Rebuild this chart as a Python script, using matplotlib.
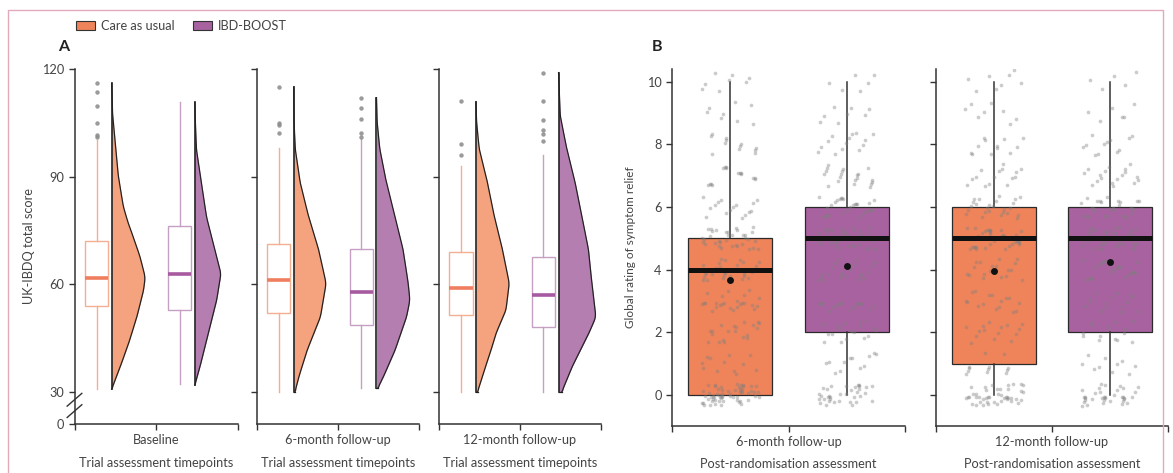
import numpy as np
import matplotlib
matplotlib.use('Agg')
import matplotlib.pyplot as plt
from matplotlib.patches import Patch, Rectangle

plt.rcParams['font.family'] = ['Lato', 'DejaVu Sans']

# ---- data ----
groups = ['Care as usual', 'IBD-BOOST']
timepoints_a = ['Baseline', '6-month follow-up', '12-month follow-up']
timepoints_b = ['6-month follow-up', '12-month follow-up']

# panel A box stats: (q1, median, q3, whisker low, whisker high)
care_box_a = [(53.8, 61.8, 71.9, 30.7, 100.1),
              (52.0, 61.0, 71.1, 30.0, 98.0),
              (51.5, 58.9, 69.0, 30.0, 92.9)]
boost_box_a = [(52.9, 62.9, 76.2, 32.1, 110.7),
               (48.7, 57.8, 69.8, 31.0, 100.6),
               (48.1, 56.9, 67.5, 30.0, 95.9)]
care_outliers_a = [[100.9, 101.7, 104.8, 109.7, 113.7, 116.0],
                   [102.1, 104.3, 105.0, 115.0],
                   [95.9, 99.0, 111.0]]
boost_outliers_a = [[],
                    [101.0, 102.2, 106.0, 109.0, 112.0],
                    [100.0, 102.0, 103.0, 105.9, 111.0, 119.0]]

# panel A half-violin outlines (score, relative density)
care_vy = [[30.7, 36.8, 43.3, 50.8, 58.2, 61.9, 67.5, 73.0, 76.8, 81.5, 90.0, 100.0, 106.7, 116.0],
           [30.0, 34.0, 41.5, 50.8, 60.2, 69.5, 78.7, 88.0, 97.3, 105.0, 115.0],
           [30.0, 35.9, 41.5, 46.2, 52.7, 60.2, 69.5, 78.9, 88.2, 97.6, 105.0, 110.9]]
care_vd = [[0, 25, 50, 75, 95, 100, 85, 65, 50, 35, 20, 10, 3, 0],
           [4, 15, 40, 80, 97, 75, 45, 20, 5, 1, 0],
           [5, 25, 45, 60, 90, 100, 80, 55, 35, 10, 2, 0]]
boost_vy = [[31.8, 36.8, 46.1, 55.4, 62.9, 71.3, 78.7, 88.0, 97.4, 104.0, 110.7],
            [31.0, 34.0, 41.4, 50.8, 55.5, 60.2, 69.5, 78.9, 88.2, 97.6, 105.0, 112.0],
            [30.0, 36.8, 46.1, 50.8, 60.2, 69.5, 78.9, 88.2, 97.6, 106.9, 119.0]]
boost_vd = [[0, 15, 40, 65, 78, 55, 35, 20, 5, 2, 0],
            [4, 20, 55, 90, 100, 95, 80, 55, 30, 10, 2, 0],
            [10, 40, 90, 112, 100, 90, 70, 50, 25, 5, 0]]

# panel B: number of patients per rating 0..10
ratings = list(range(11))
care_counts_b = [[60, 12, 20, 25, 30, 35, 16, 15, 12, 8, 8],
                 [45, 12, 15, 16, 18, 40, 25, 15, 12, 8, 8]]
boost_counts_b = [[35, 12, 18, 18, 22, 40, 30, 20, 14, 8, 6],
                  [35, 10, 15, 15, 25, 40, 28, 18, 12, 6, 5]]
# (q1, median, q3, whisker low, whisker high, mean)
care_box_b = [(0, 4, 5, 0, 10, 3.67), (1, 5, 6, 0, 10, 3.97)]
boost_box_b = [(2, 5, 6, 0, 10, 4.10), (2, 5, 6, 0, 10, 4.23)]

# ---- styling ----
OR_V, OR_EDGE, OR_MED, OR_B = '#F5A27E', '#F4AE92', '#EF7E5F', '#EF845A'
PU_V, PU_EDGE, PU_MED, PU_B = '#B47FB0', '#C6A0C2', '#A85AA0', '#A8629F'
AX_COL = '#333333'
TXT = '#444444'
FS = 9.2

W, H = 1173, 473
fig = plt.figure(figsize=(W / 100, H / 100), dpi=100)


def rect(x0, x1, ytop, ybot):
    return [x0 / W, 1 - ybot / H, (x1 - x0) / W, (ybot - ytop) / H]


def style(ax):
    for s in ['top', 'right']:
        ax.spines[s].set_visible(False)
    for s in ['left', 'bottom']:
        ax.spines[s].set_color(AX_COL)
        ax.spines[s].set_linewidth(1.1)
    ax.tick_params(colors=AX_COL, labelcolor=TXT, labelsize=FS, length=4, width=1)


def stats(b, fl=(), mean=None):
    d = dict(q1=b[0], med=b[1], q3=b[2], whislo=b[3], whishi=b[4], fliers=list(fl))
    if mean is not None:
        d['mean'] = mean
    return d


def half_violin(ax, ys, ds, base, fc):
    yy = np.linspace(ys[0], ys[-1], 300)
    dd = np.interp(yy, ys, ds)
    k = np.ones(9) / 9
    dd = np.convolve(np.pad(dd, 4, mode='edge'), k, mode='valid')
    dd[0] = ds[0]
    dd[-1] = 0
    w = dd / 486.0
    ax.fill_betweenx(yy, base, base + w, color=fc, lw=0, zorder=2)
    ax.plot(base + w, yy, color='#222222', lw=0.9, zorder=3)
    ax.plot([base, base], [yy[0], yy[-1]], color='#222222', lw=1.2, zorder=3)
    ax.plot([base, base + w[0]], [yy[0], yy[0]], color='#222222', lw=0.9, zorder=3)


a_lefts = [(74.5, 237.5), (256.7, 419), (439, 601)]
ybot_a = 21.1
for i, (x0, x1) in enumerate(a_lefts):
    ax = fig.add_axes(rect(x0, x1, 69, 423.5))
    style(ax)
    ax.set_xlim(0, 1)
    ax.set_ylim(ybot_a, 120)
    ax.set_xticks([0, 0.5, 1])
    ax.set_xticklabels(['', timepoints_a[i], ''])
    ax.set_xlabel('Trial assessment timepoints', fontsize=FS, color=TXT, labelpad=8)
    if i == 0:
        ax.set_yticks([ybot_a, 30, 60, 90, 120])
        ax.set_yticklabels(['0', '30', '60', '90', '120'])
        ax.set_ylabel('UK-IBDQ total score', fontsize=FS, color=TXT, labelpad=5)
        for yc in (0.067, 0.035):
            ax.plot([-0.045, 0.045], [yc - 0.018, yc + 0.018], transform=ax.transAxes,
                    color=AX_COL, lw=1.0, clip_on=False, zorder=5)
    else:
        ax.set_yticks([30, 60, 90, 120])
        ax.set_yticklabels([])

    for pos, box, fl, edge, med in [(0.135, care_box_a[i], care_outliers_a[i], OR_EDGE, OR_MED),
                                    (0.645, boost_box_a[i], boost_outliers_a[i], PU_EDGE, PU_MED)]:
        ax.bxp([stats(box, fl)], positions=[pos], widths=0.145, patch_artist=True,
               showcaps=False, manage_ticks=False,
               boxprops=dict(facecolor='white', edgecolor=edge, lw=1.0),
               whiskerprops=dict(color=edge, lw=1.0),
               medianprops=dict(color=med, lw=2.6, solid_capstyle='butt'),
               flierprops=dict(marker='o', markersize=3.2, markerfacecolor='#8a8a8a',
                               markeredgecolor='none', alpha=0.85))
    half_violin(ax, care_vy[i], care_vd[i], 0.228, OR_V)
    half_violin(ax, boost_vy[i], boost_vd[i], 0.738, PU_V)

fig.text(58 / W, 1 - 47 / H, 'A', fontsize=11.5, fontweight='bold', color='#222', va='center')
fig.text(652 / W, 1 - 47 / H, 'B', fontsize=11.5, fontweight='bold', color='#222', va='center')

b_lefts = [(672, 905), (936, 1168)]
for i, (x0, x1) in enumerate(b_lefts):
    ax = fig.add_axes(rect(x0, x1, 69, 425.7))
    style(ax)
    ax.set_xlim(0, 1)
    ax.set_ylim(-0.98, 10.4)
    ax.set_xticks([0, 0.5, 1])
    ax.set_xticklabels(['', timepoints_b[i], ''])
    ax.set_xlabel('Post-randomisation assessment', fontsize=FS, color=TXT, labelpad=7)
    ax.set_yticks([0, 2, 4, 6, 8, 10])
    if i == 0:
        ax.set_ylabel('Global rating of symptom relief', fontsize=FS - 0.7, color=TXT, labelpad=8)
    else:
        ax.set_yticklabels([])

    for j, (pos, box, fc, counts) in enumerate([(0.25, care_box_b[i], OR_B, care_counts_b[i]),
                                                (0.75, boost_box_b[i], PU_B, boost_counts_b[i])]):
        ax.bxp([stats(box[:5], mean=box[5])], positions=[pos], widths=0.36, patch_artist=True,
               showcaps=False, showfliers=False, showmeans=True, manage_ticks=False,
               boxprops=dict(facecolor=fc, edgecolor='#2a2a2a', lw=0.9),
               whiskerprops=dict(color='#333333', lw=1.1),
               medianprops=dict(color='#111111', lw=3.6, solid_capstyle='butt', zorder=4),
               meanprops=dict(marker='o', markersize=5, markerfacecolor='#111111',
                              markeredgecolor='none', zorder=5))
        # deterministic jitter around each integer rating
        yv = np.repeat(ratings, counts).astype(float)
        k = np.arange(len(yv)) + 1 + 37 * (2 * i + j)
        xj = ((np.sqrt(k) * 7.31) % 1 - 0.5) * 0.25
        yj = ((np.sqrt(k * 3.7) * 11.17) % 1 - 0.5) * 0.72
        ax.scatter(pos + xj, yv + yj, s=7, color='#7f7f7f', alpha=0.4, lw=0, zorder=3)

# legend
handles = [Patch(facecolor=OR_B, edgecolor='#333333', lw=0.8, label=groups[0]),
           Patch(facecolor=PU_B, edgecolor='#333333', lw=0.8, label=groups[1])]
fig.legend(handles=handles, loc='center left', bbox_to_anchor=(64 / W, 1 - 26 / H), ncol=2,
           frameon=False, fontsize=FS, handlelength=1.5, handleheight=0.8,
           columnspacing=1.4, handletextpad=0.5, labelcolor=TXT)

# thin pink frame
fig.add_artist(Rectangle((8 / W, -0.05), (1163 - 8) / W, 1.05 - 10 / H,
                         transform=fig.transFigure, fill=False, edgecolor='#E3A9B8', lw=1.0))

fig.savefig('out.png', dpi=100)
